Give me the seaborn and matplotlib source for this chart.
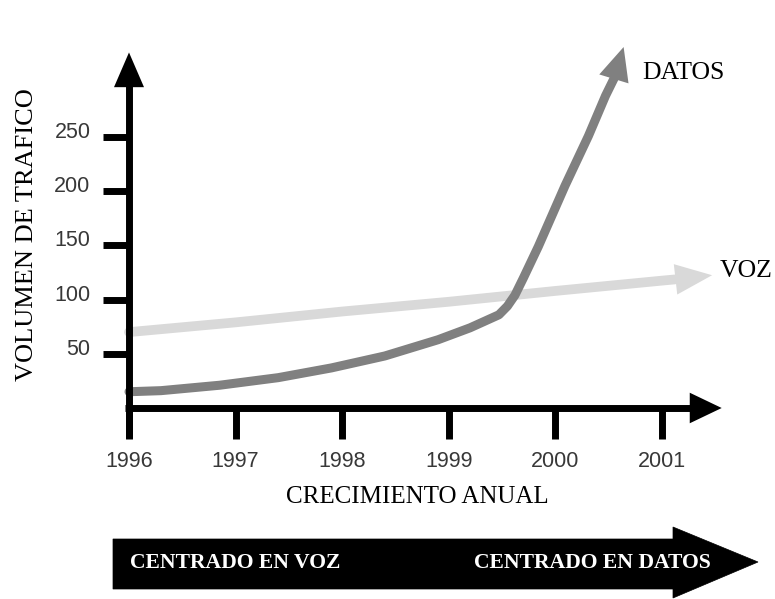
import matplotlib
matplotlib.use("Agg")
import matplotlib.pyplot as plt
import matplotlib.transforms as mtransforms
from matplotlib.patches import Polygon
import seaborn as sns

# ---- data ----
years = [1996, 1997, 1998, 1999, 2000, 2001]
y_ticks = [50, 100, 150, 200, 250]

# DATOS curve (last point = arrow tip)
datos_x = [1996.0, 1996.3, 1996.85, 1997.4, 1997.9, 1998.4, 1998.9, 1999.2,
           1999.47, 1999.55, 1999.62, 1999.7, 1999.84, 2000.09, 2000.31,
           2000.47, 2000.55, 2000.64]
datos_y = [15, 16, 21, 28, 37, 48, 63, 74, 86, 94, 104, 120, 149, 205, 251,
           288, 304, 333]

# VOZ line (last point = arrow tip)
voz_x = [1996, 1997, 1998, 1999, 2000, 2001, 2001.12, 2001.47]
voz_y = [70, 79, 89, 98, 108, 117.5, 118.6, 122.5]

label_y = "VOLUMEN DE TRAFICO"
label_x = "CRECIMIENTO ANUAL"
banner_left = "CENTRADO EN VOZ"
banner_right = "CENTRADO EN DATOS"

c_datos = "#808080"
c_voz = "#d9d9d9"

sns.set_theme(style="white")
plt.rcParams["font.family"] = ["Liberation Sans", "DejaVu Sans"]

W, H = 775, 599
fig = plt.figure(figsize=(W / 100, H / 100), dpi=100)
fig.patch.set_facecolor("white")


def px(x, y):
    return (x / W, (H - y) / H)


ax = fig.add_axes([129 / W, (H - 408) / H, (662 - 129) / W, (408 - 137) / H])
ax.set_facecolor("white")
ax.set_xlim(1996, 2001)
ax.set_ylim(0, 250)
for s in ax.spines.values():
    s.set_visible(False)

# data lines
sns.lineplot(x=datos_x[:-1], y=datos_y[:-1], ax=ax, color=c_datos, linewidth=6.5,
             sort=False, estimator=None, clip_on=False, zorder=3)
sns.lineplot(x=voz_x[:-1], y=voz_y[:-1], ax=ax, color=c_voz, linewidth=7,
             sort=False, estimator=None, clip_on=False, zorder=2)


def head(x0, y0, x1, y1, color, length, half, z):
    ax.annotate("", xy=(x1, y1), xytext=(x0, y0), annotation_clip=False,
                zorder=z,
                arrowprops=dict(arrowstyle=f"-|>,head_length={length},head_width={half}",
                                mutation_scale=1, lw=0, color=color,
                                shrinkA=0, shrinkB=0))


head(datos_x[-2], datos_y[-2], datos_x[-1], datos_y[-1], c_datos, 24, 11, 3)
head(voz_x[-2], voz_y[-2], voz_x[-1], voz_y[-1], c_voz, 26.5, 11, 2)

# axes drawn as thick black arrows
ax.plot([1996, 1996], [-28, 297], color="black", lw=5, solid_capstyle="butt",
        clip_on=False, zorder=5)
ax.plot([1996 - 0.035, 2001.27], [0, 0], color="black", lw=5,
        solid_capstyle="butt", clip_on=False, zorder=5)
head(1996, 296, 1996, 328, "black", 25, 10.8, 5)
head(2001.26, 0, 2001.56, 0, "black", 23, 11, 5)

# ticks
ax.set_yticks(y_ticks)
ax.set_yticklabels([str(v) for v in y_ticks])
ax.set_xticks(years)
ax.set_xticklabels([str(v) for v in years])
ax.tick_params(axis="y", direction="out", length=18.7, width=5, color="black",
               pad=9, labelsize=15.5, labelcolor="#383838", left=True)
ax.tick_params(axis="x", direction="out", length=22, width=5, color="black",
               pad=9, labelsize=15.5, labelcolor="#383838", bottom=True)
off = mtransforms.ScaledTranslation(0, 7 / 100, fig.dpi_scale_trans)
for lab in ax.get_yticklabels():
    lab.set_transform(lab.get_transform() + off)

serif = ["Liberation Serif", "DejaVu Serif"]
fig.text(*px(33, 235), label_y, rotation=90, rotation_mode="anchor",
         ha="center", va="baseline", fontsize=19, family=serif, color="black")
fig.text(*px(417, 503), label_x, ha="center", va="baseline", fontsize=18,
         family=serif, color="black")
fig.text(*px(642, 79), "DATOS", ha="left", va="baseline", fontsize=18.5,
         family=serif, color="black")
fig.text(*px(720, 277), "VOZ", ha="left", va="baseline", fontsize=18.5,
         family=serif, color="black")

# banner arrow
pts = [(113, 539), (673, 539), (673, 527), (758, 562), (673, 598), (673, 589),
       (113, 589)]
fig.patches.append(Polygon([px(x, y) for x, y in pts], closed=True,
                           transform=fig.transFigure, facecolor="black",
                           edgecolor="black", lw=0.5, figure=fig))
fig.text(*px(130, 568), banner_left, ha="left", va="baseline", fontsize=15.6,
         fontweight="bold", family=serif, color="white")
fig.text(*px(711, 568), banner_right, ha="right", va="baseline", fontsize=15.6,
         fontweight="bold", family=serif, color="white")

fig.savefig("out.png", dpi=100, facecolor="white")
